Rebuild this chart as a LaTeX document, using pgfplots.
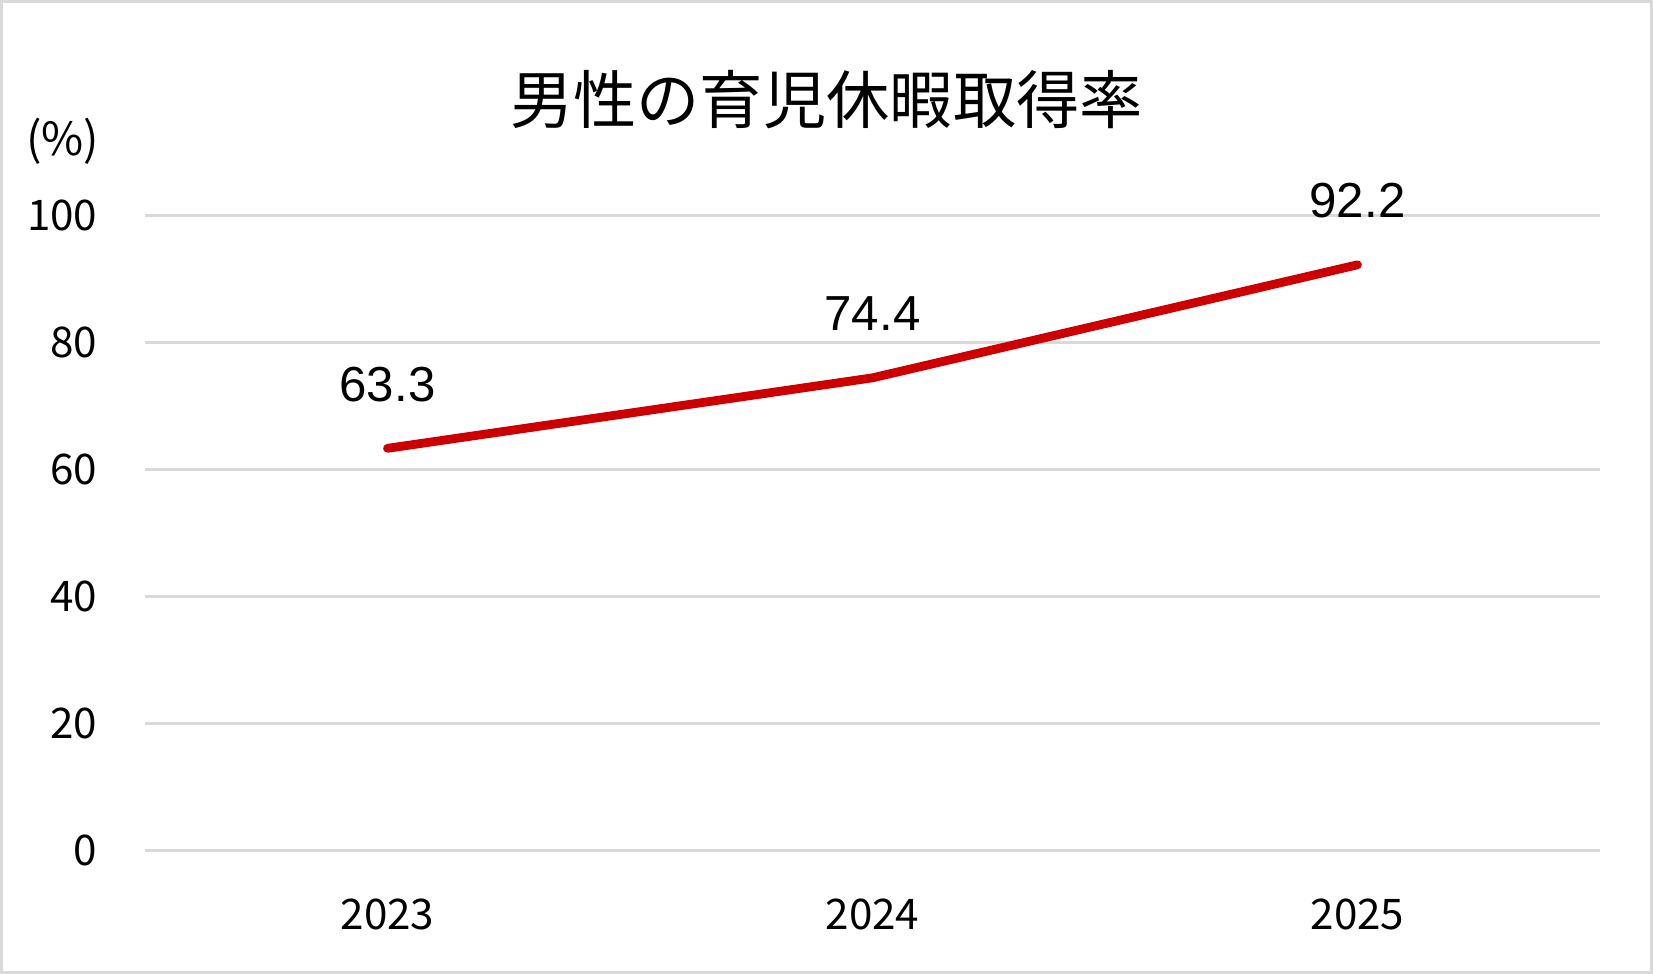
\documentclass[border=0pt]{standalone}
\usepackage{fontspec}
\setmainfont{Noto Sans CJK JP}
\newfontfamily\dlfont{Liberation Sans}
\usepackage{pgfplots}
\pgfplotsset{compat=1.18}
\definecolor{gridgray}{RGB}{217,217,217}
\definecolor{linered}{RGB}{204,0,0}
\begin{document}
\begin{tikzpicture}
\useasboundingbox (0,0) rectangle (16.53cm,9.74cm);
\fill[white] (0,0) rectangle (16.53cm,9.74cm);
\draw[gridgray, line width=0.85pt] (0.015cm,0.015cm) rectangle (16.515cm,9.725cm);
\node[font=\fontsize{18}{21}\selectfont] at (8.265cm,8.74cm) {男性の育児休暇取得率};
\node[font=\fontsize{13}{15}\selectfont] at (0.625cm,8.33cm) {(\%)};
\begin{axis}[
  at={(1.45cm,1.237cm)}, anchor=south west,
  scale only axis, width=14.55cm, height=6.35cm,
  xmin=-0.5, xmax=2.5, ymin=0, ymax=100,
  xtick={0,1,2}, xticklabels={2023,2024,2025},
  ytick={0,20,40,60,80,100},
  axis line style={draw=none},
  major tick length=0pt,
  ymajorgrids, grid style={gridgray, line width=0.75pt},
  /pgf/number format/assume math mode=true,
  tick label style={font=\fontsize{12}{14}\selectfont, inner sep=0pt},
  yticklabel style={anchor=east, xshift=-0.47cm},
  xticklabel style={anchor=north, yshift=-0.48cm},
  clip=false,
  point meta=explicit symbolic,
  nodes near coords={\dlfont\pgfplotspointmeta},
  every node near coord/.append style={anchor=center, yshift=0.64cm, inner sep=0pt, font=\fontsize{14}{16}\selectfont, text=black},
]
\addplot[linered, line width=2.5pt, line cap=round, line join=round, mark=none] coordinates {
  (0,63.3) [63.3]
  (1,74.4) [74.4]
  (2,92.2) [92.2]
};
\end{axis}
\end{tikzpicture}
\end{document}
